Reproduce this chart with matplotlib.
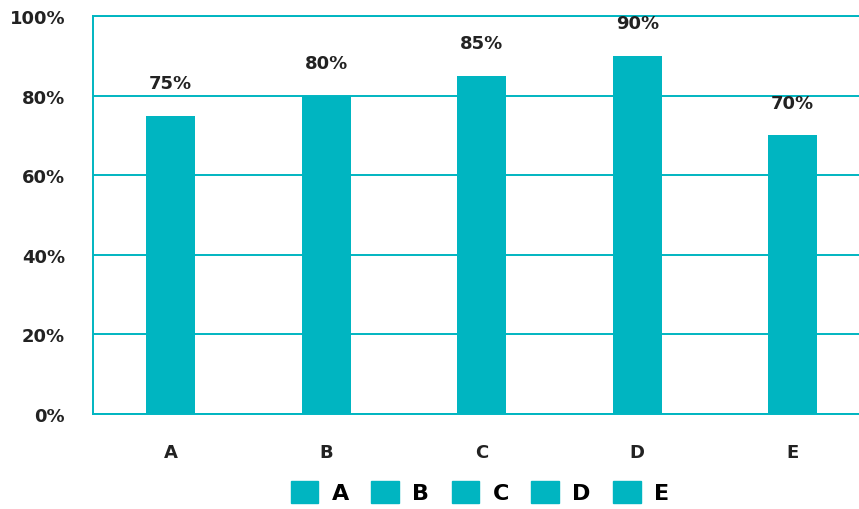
import matplotlib
matplotlib.use("Agg")
import matplotlib.pyplot as plt
from matplotlib.patches import Patch
from matplotlib.ticker import FuncFormatter

categories = ["A", "B", "C", "D", "E"]
values = [75, 80, 85, 90, 70]
yticks = [0, 20, 40, 60, 80, 100]

teal = "#00B5C1"
plt.rcParams['font.family'] = ['DejaVu Sans']

fig = plt.figure(figsize=(8.59, 5.10), dpi=100)
W, H = 859, 510
left, right, top, bottom = 93, 870.5, 17, 415
ax = fig.add_axes([left / W, (H - bottom) / H, (right - left) / W, (bottom - top) / H])

x = list(range(len(categories)))
bars = ax.bar(x, values, width=0.315, color=teal, zorder=3)
for xi, v in zip(x, values):
    ax.text(xi, v + 6.0, f"{v}%", ha='center', va='bottom', fontsize=13, fontweight='bold', color="#222222", zorder=4)

ax.set_xlim(-0.5, 4.5)
ax.set_ylim(0, 100)
ax.set_yticks(yticks)
ax.yaxis.set_major_formatter(FuncFormatter(lambda v, p: f"{int(v)}%"))
ax.set_xticks(x)
ax.set_xticklabels(categories)
ax.grid(axis='y', color=teal, linewidth=1.4, zorder=1)
ax.tick_params(axis='both', length=0, labelsize=13, pad=0)
ax.tick_params(axis='y', pad=20)
ax.tick_params(axis='x', pad=21)
for lab in ax.get_xticklabels() + ax.get_yticklabels():
    lab.set_fontweight('bold')
    lab.set_color("#222222")
ax.spines['right'].set_visible(False)
for s in ['left', 'bottom', 'top']:
    ax.spines[s].set_color(teal)
    ax.spines[s].set_linewidth(1.4)

handles = [Patch(facecolor=teal, edgecolor=teal) for _ in categories]
leg = fig.legend(handles, categories, loc='center', bbox_to_anchor=(480 / W, (H - 493) / H), ncol=5,
                 frameon=False, handlelength=1.25, handleheight=1.2, columnspacing=1.0, handletextpad=0.6,
                 prop={'weight': 'bold', 'size': 16})

fig.savefig("out.png", dpi=100)
